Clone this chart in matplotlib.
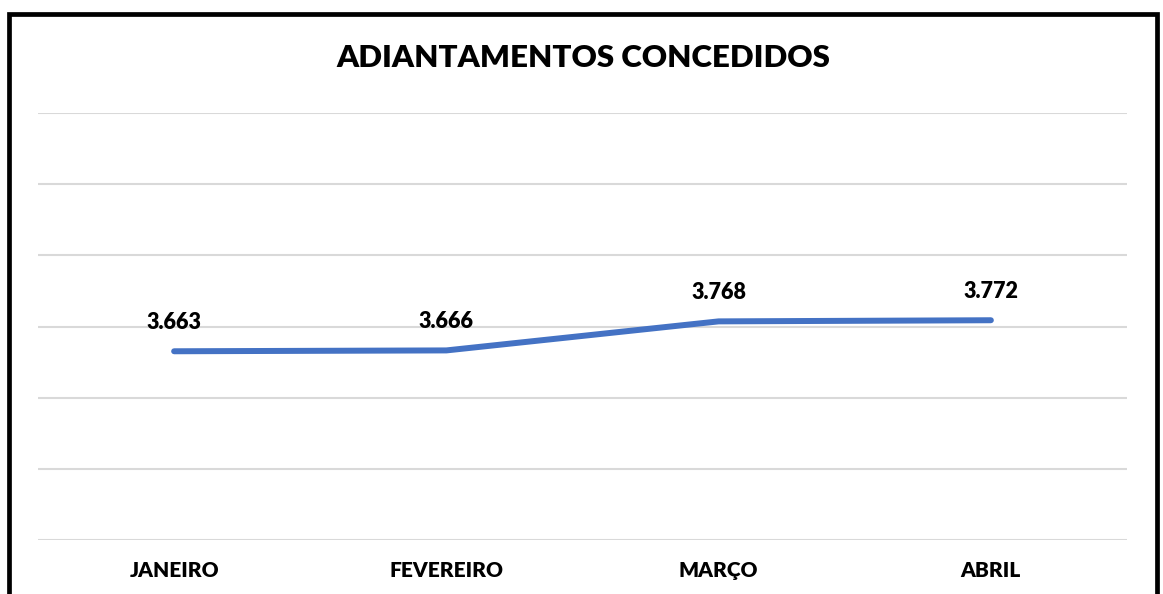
import matplotlib.pyplot as plt
from matplotlib.patches import Rectangle

plt.rcParams['font.family'] = ['Lato', 'DejaVu Sans']

meses = ['JANEIRO', 'FEVEREIRO', 'MARÇO', 'ABRIL']
valores = [3.663, 3.666, 3.768, 3.772]
titulo = 'ADIANTAMENTOS CONCEDIDOS'

W, H = 1163, 594
fig = plt.figure(figsize=(W / 100, H / 100), dpi=100)
ax = fig.add_axes([38 / W, (H - 540) / H, (1127 - 38) / W, (540 - 113) / H])

x = [i + 0.5 for i in range(len(meses))]
ax.plot(x, valores, color='#4472C4', linewidth=4.3, solid_capstyle='round',
        solid_joinstyle='round', zorder=3)

for xi, v in zip(x, valores):
    ax.annotate('{:.3f}'.format(v), (xi, v), xytext=(0, 13), textcoords='offset points',
                ha='center', va='bottom', fontsize=15.5, fontweight='heavy', color='black')

ax.set_xlim(0, len(meses))
ax.set_ylim(3.0, 4.5)
ax.set_yticks([3.0 + 0.25 * i for i in range(7)])
ax.grid(axis='y', color='#d9d9d9', linewidth=1.5)
ax.set_axisbelow(True)
ax.set_yticklabels([])
ax.tick_params(axis='y', length=0)
ax.set_xticks(x)
ax.set_xticklabels(meses, fontsize=15, fontweight='heavy')
ax.tick_params(axis='x', length=0, pad=15)
for s in ax.spines.values():
    s.set_visible(False)

fig.text(583 / W, 1 - 58 / H, titulo, ha='center', va='center',
         fontsize=22.5, fontweight='heavy')

fig.patches.append(Rectangle((9 / W, -0.05), (1156.5 - 9) / W, (H - 14) / H + 0.05,
                             transform=fig.transFigure, fill=False,
                             edgecolor='black', linewidth=3.4))

fig.savefig('out.png', dpi=100)
